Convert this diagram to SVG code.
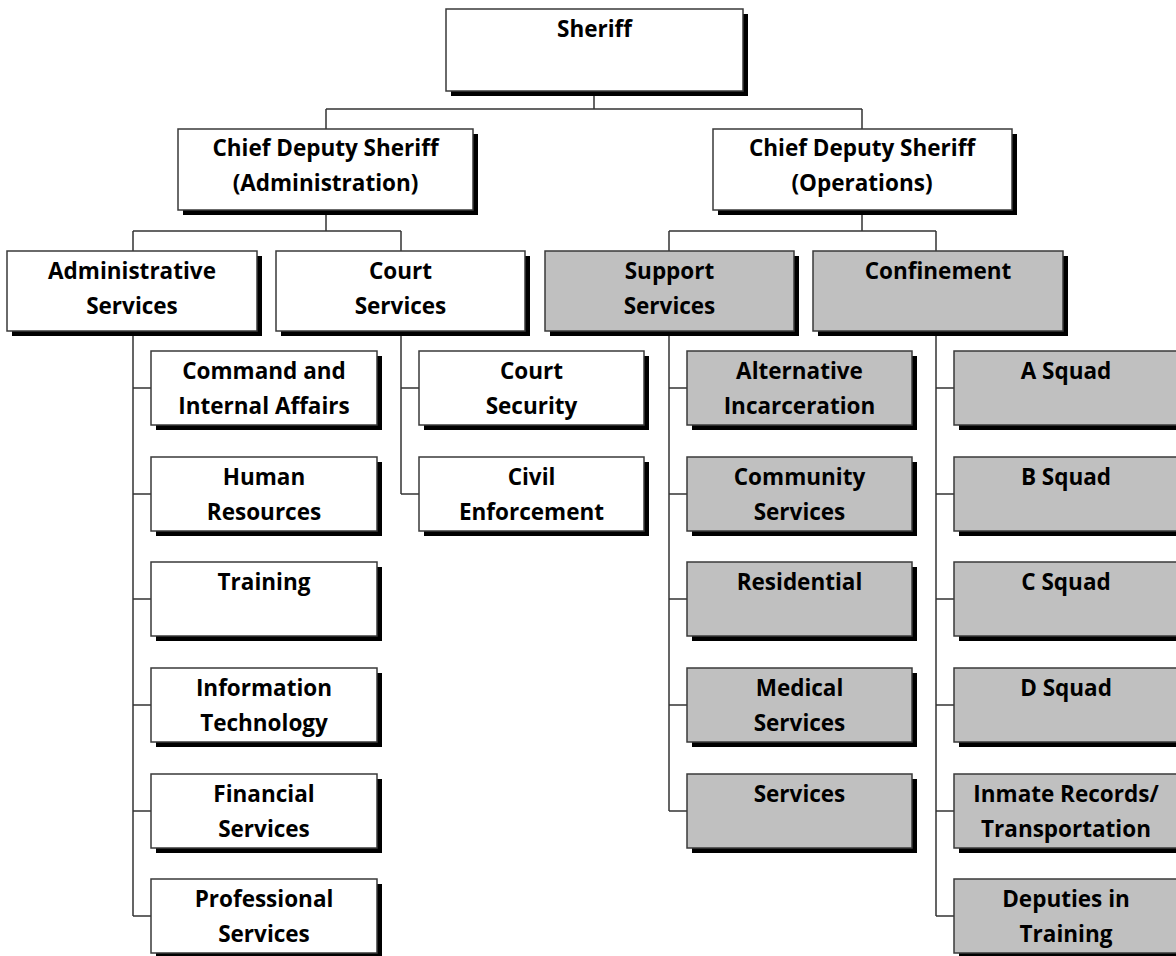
<svg xmlns="http://www.w3.org/2000/svg" width="1176" height="956" viewBox="0 0 1176 956">
<defs>
<style>
.sh{fill:#000}
.bw{fill:#fff;stroke:#3a3a3a;stroke-width:1.5}
.bg{fill:#c0c0c0;stroke:#3a3a3a;stroke-width:1.5}
.t{font-family:"Open Sans",Lato,sans-serif;font-weight:bold;font-size:22.5px;fill:#000;text-anchor:middle}
.c{fill:none;stroke:#333;stroke-width:1.5}
</style>
</defs>
<rect width="1176" height="956" fill="#fff"/>
<g id="connectors">
<path class="c" d="M594 91V109M326 109H862M326 109V129M862 109V129"/>
<path class="c" d="M326 210V231M133 231H401M133 231V251M401 231V251"/>
<path class="c" d="M862 211V231M669 231H936M669 231V251M936 231V251"/>
<path class="c" d="M133 331V916M133 388H151M133 494H151M133 599H151M133 705H151M133 811H151M133 916H151"/>
<path class="c" d="M401 331V494M401 388H419M401 494H419"/>
<path class="c" d="M669 331V811M669 388H687M669 494H687M669 599H687M669 705H687M669 811H687"/>
<path class="c" d="M936 331V916M936 388H954M936 494H954M936 599H954M936 705H954M936 811H954M936 916H954"/>
</g>
<g id="sheriff"><rect class="sh" x="451" y="14" width="297" height="82"/><rect class="bw" x="446" y="9" width="297" height="82"/><text class="t" x="594.5" y="37">Sheriff</text></g>
<g id="cds-admin"><rect class="sh" x="183" y="134" width="295" height="81"/><rect class="bw" x="178" y="129" width="295" height="81"/><text class="t" x="325.5" y="156">Chief Deputy Sheriff</text><text class="t" x="325.5" y="191">(Administration)</text></g>
<g id="cds-ops"><rect class="sh" x="718" y="134" width="299" height="81"/><rect class="bw" x="713" y="129" width="299" height="81"/><text class="t" x="862" y="156">Chief Deputy Sheriff</text><text class="t" x="862" y="191">(Operations)</text></g>
<g id="admin-services"><rect class="sh" x="12" y="256" width="250" height="80"/><rect class="bw" x="7" y="251" width="250" height="80"/><text class="t" x="132" y="279">Administrative</text><text class="t" x="132" y="314">Services</text></g>
<g id="court-services"><rect class="sh" x="281" y="256" width="249" height="80"/><rect class="bw" x="276" y="251" width="249" height="80"/><text class="t" x="400.5" y="279">Court</text><text class="t" x="400.5" y="314">Services</text></g>
<g id="support-services"><rect class="sh" x="550" y="256" width="249" height="80"/><rect class="bg" x="545" y="251" width="249" height="80"/><text class="t" x="669.5" y="279">Support</text><text class="t" x="669.5" y="314">Services</text></g>
<g id="confinement"><rect class="sh" x="818" y="256" width="250" height="80"/><rect class="bg" x="813" y="251" width="250" height="80"/><text class="t" x="938" y="279">Confinement</text></g>

<g id="command"><rect class="sh" x="156" y="356" width="226" height="74"/><rect class="bw" x="151" y="351" width="226" height="74"/><text class="t" x="264" y="379">Command and</text><text class="t" x="264" y="414">Internal Affairs</text></g>
<g id="hr"><rect class="sh" x="156" y="462" width="226" height="74"/><rect class="bw" x="151" y="457" width="226" height="74"/><text class="t" x="264" y="485">Human</text><text class="t" x="264" y="520">Resources</text></g>
<g id="training"><rect class="sh" x="156" y="567" width="226" height="74"/><rect class="bw" x="151" y="562" width="226" height="74"/><text class="t" x="264" y="590">Training</text></g>
<g id="it"><rect class="sh" x="156" y="673" width="226" height="74"/><rect class="bw" x="151" y="668" width="226" height="74"/><text class="t" x="264" y="696">Information</text><text class="t" x="264" y="731">Technology</text></g>
<g id="financial"><rect class="sh" x="156" y="779" width="226" height="74"/><rect class="bw" x="151" y="774" width="226" height="74"/><text class="t" x="264" y="802">Financial</text><text class="t" x="264" y="837">Services</text></g>
<g id="professional"><rect class="sh" x="156" y="884" width="226" height="74"/><rect class="bw" x="151" y="879" width="226" height="74"/><text class="t" x="264" y="907">Professional</text><text class="t" x="264" y="942">Services</text></g>

<g id="court-security"><rect class="sh" x="424" y="356" width="225" height="74"/><rect class="bw" x="419" y="351" width="225" height="74"/><text class="t" x="531.5" y="379">Court</text><text class="t" x="531.5" y="414">Security</text></g>
<g id="civil"><rect class="sh" x="424" y="462" width="225" height="74"/><rect class="bw" x="419" y="457" width="225" height="74"/><text class="t" x="531.5" y="485">Civil</text><text class="t" x="531.5" y="520">Enforcement</text></g>

<g id="alternative"><rect class="sh" x="692" y="356" width="225" height="74"/><rect class="bg" x="687" y="351" width="225" height="74"/><text class="t" x="799.5" y="379">Alternative</text><text class="t" x="799.5" y="414">Incarceration</text></g>
<g id="community"><rect class="sh" x="692" y="462" width="225" height="74"/><rect class="bg" x="687" y="457" width="225" height="74"/><text class="t" x="799.5" y="485">Community</text><text class="t" x="799.5" y="520">Services</text></g>
<g id="residential"><rect class="sh" x="692" y="567" width="225" height="74"/><rect class="bg" x="687" y="562" width="225" height="74"/><text class="t" x="799.5" y="590">Residential</text></g>
<g id="medical"><rect class="sh" x="692" y="673" width="225" height="74"/><rect class="bg" x="687" y="668" width="225" height="74"/><text class="t" x="799.5" y="696">Medical</text><text class="t" x="799.5" y="731">Services</text></g>
<g id="services"><rect class="sh" x="692" y="779" width="225" height="74"/><rect class="bg" x="687" y="774" width="225" height="74"/><text class="t" x="799.5" y="802">Services</text></g>

<g id="a-squad"><rect class="sh" x="959" y="356" width="226" height="74"/><rect class="bg" x="954" y="351" width="226" height="74"/><text class="t" x="1066" y="379">A Squad</text></g>
<g id="b-squad"><rect class="sh" x="959" y="462" width="226" height="74"/><rect class="bg" x="954" y="457" width="226" height="74"/><text class="t" x="1066" y="485">B Squad</text></g>
<g id="c-squad"><rect class="sh" x="959" y="567" width="226" height="74"/><rect class="bg" x="954" y="562" width="226" height="74"/><text class="t" x="1066" y="590">C Squad</text></g>
<g id="d-squad"><rect class="sh" x="959" y="673" width="226" height="74"/><rect class="bg" x="954" y="668" width="226" height="74"/><text class="t" x="1066" y="696">D Squad</text></g>
<g id="inmate"><rect class="sh" x="959" y="779" width="226" height="74"/><rect class="bg" x="954" y="774" width="226" height="74"/><text class="t" x="1066" y="802">Inmate Records/</text><text class="t" x="1066" y="837">Transportation</text></g>
<g id="deputies"><rect class="sh" x="959" y="884" width="226" height="74"/><rect class="bg" x="954" y="879" width="226" height="74"/><text class="t" x="1066" y="907">Deputies in</text><text class="t" x="1066" y="942">Training</text></g>
</svg>
